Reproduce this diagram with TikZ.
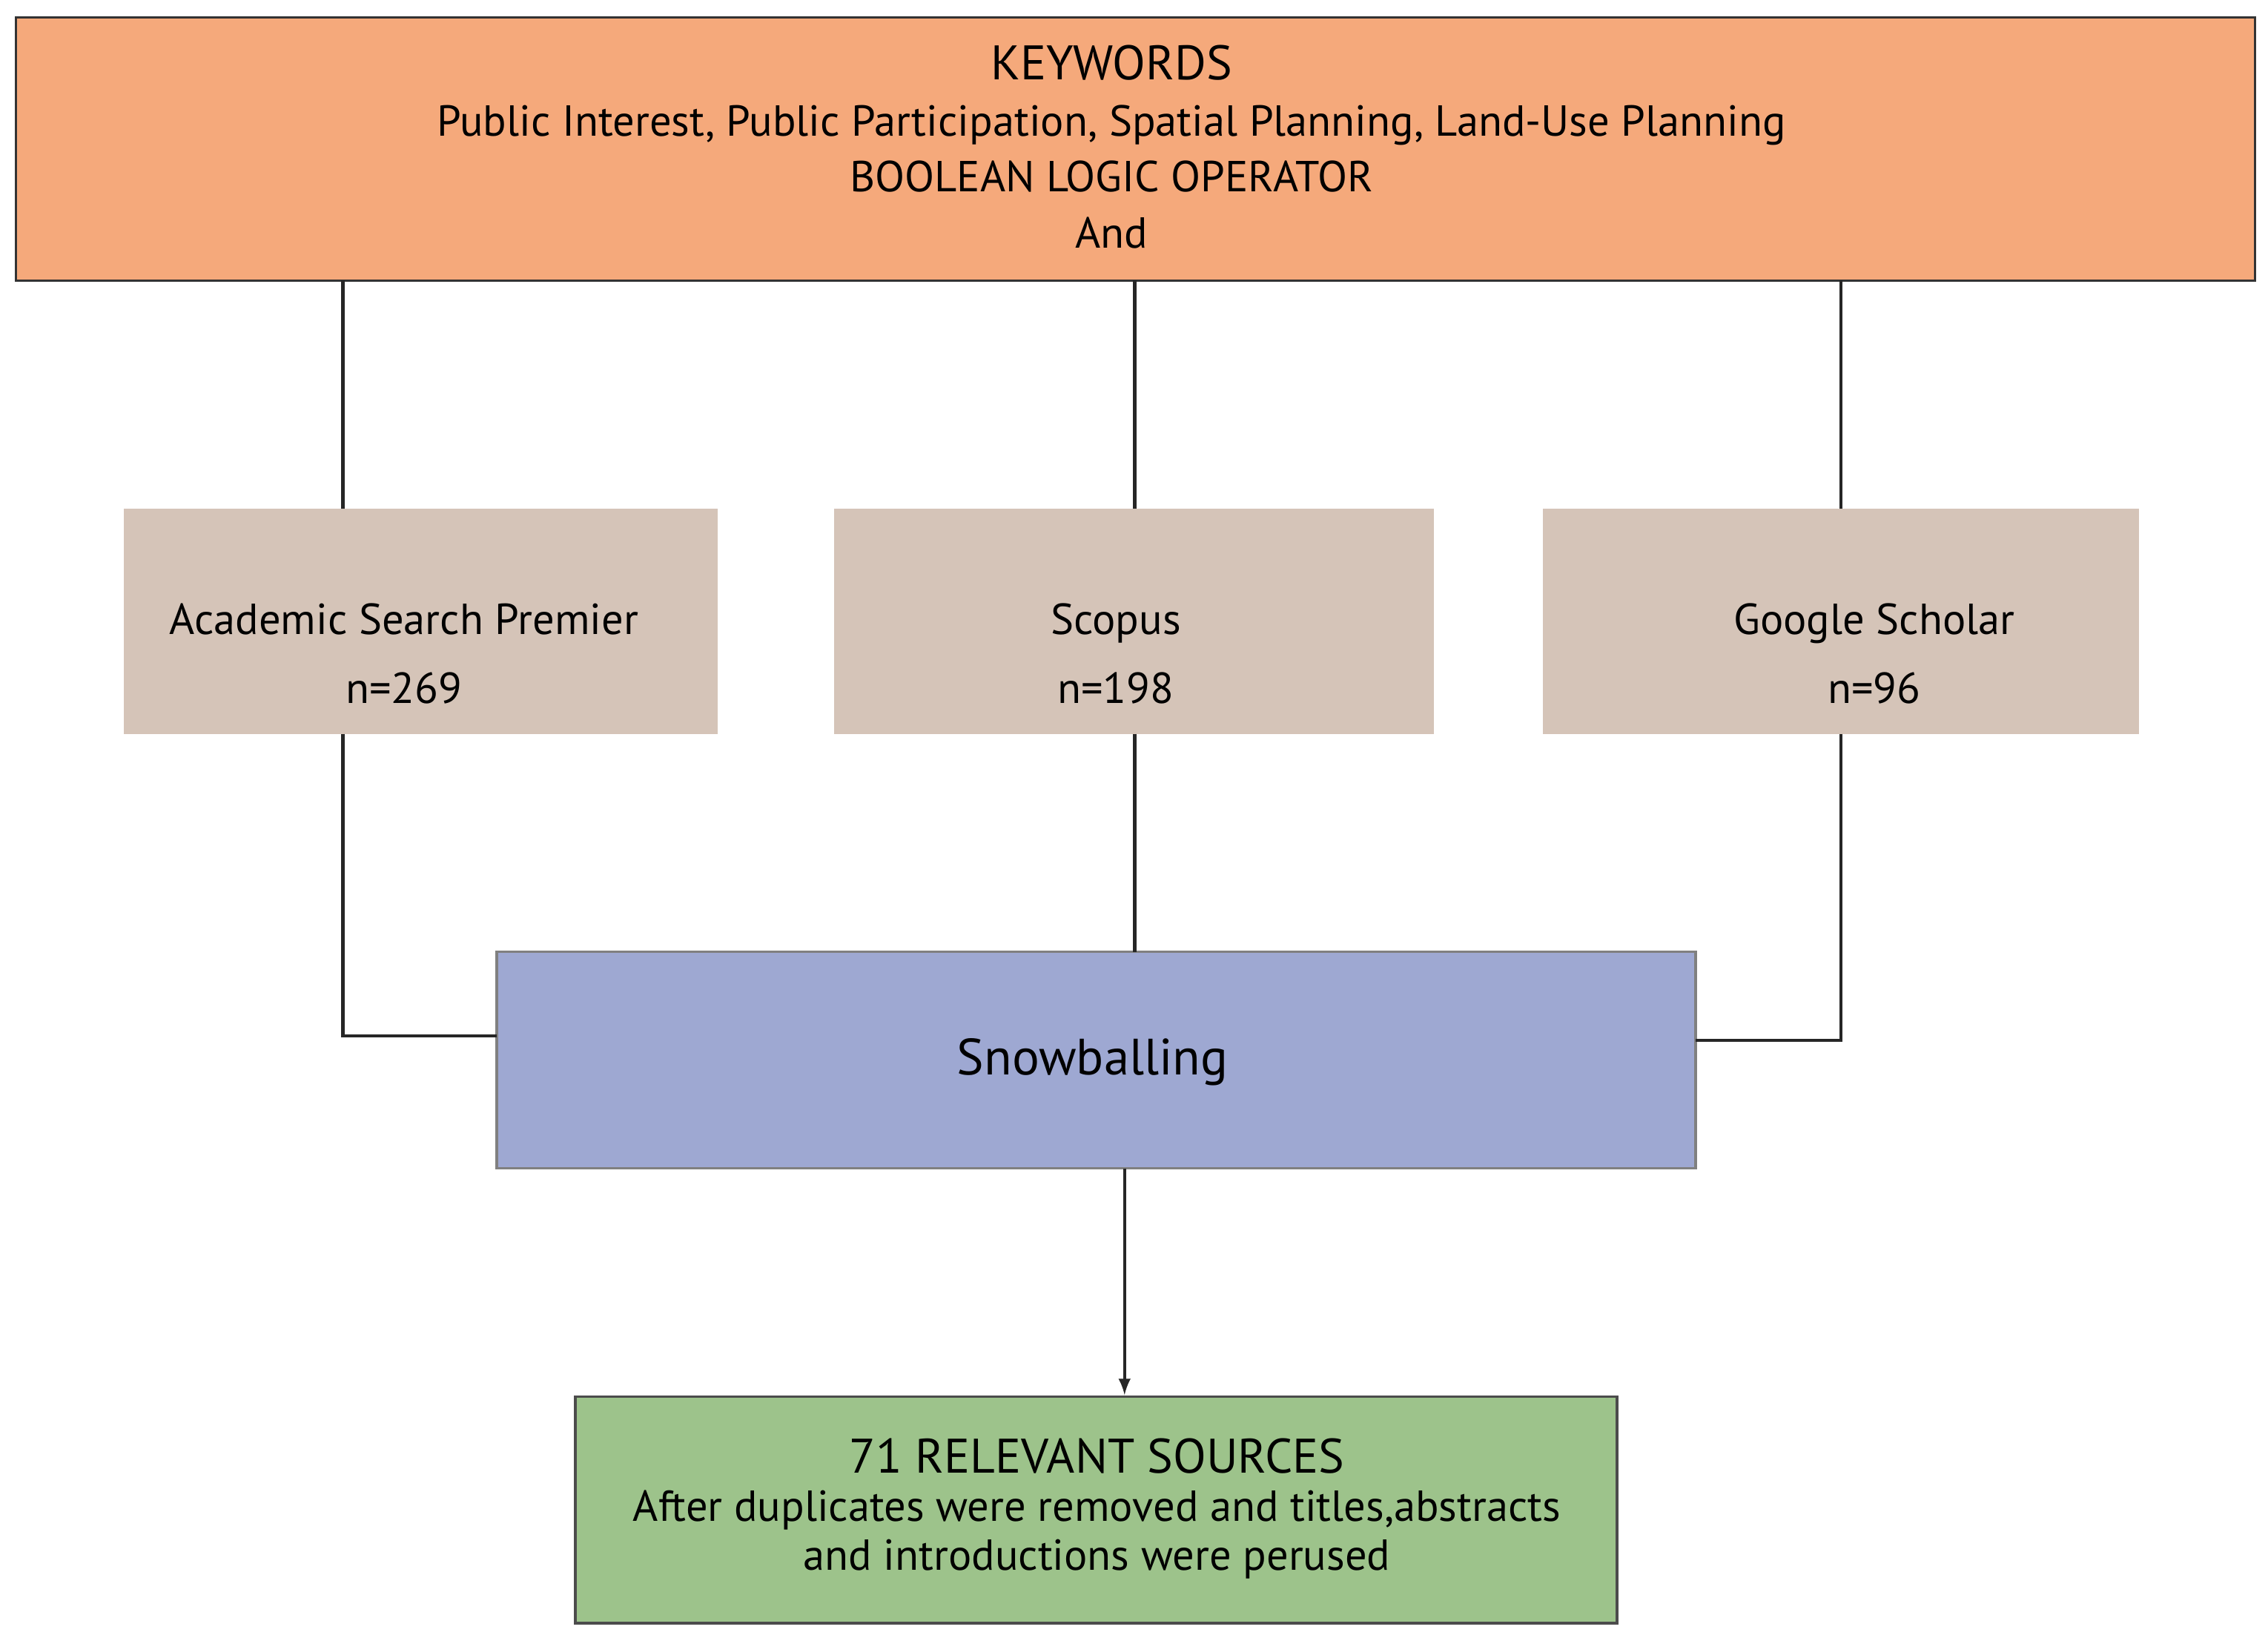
\documentclass[tikz,border=0pt]{standalone}
\usepackage{fontspec}
\setmainfont{PT Sans}
\begin{document}
\begin{tikzpicture}[x=0.02cm,y=-0.02cm,
 box/.style={draw=#1,line width=0.8pt,inner sep=0pt,anchor=north west,align=center},
 ln/.style={line width=1.2pt,draw=black!85},
 txt/.style={font=\fontsize{16}{19}\selectfont}]
\useasboundingbox (0,0) rectangle (1561,1127);
\definecolor{kw}{HTML}{F5A97B}\definecolor{gb}{HTML}{D5C4B8}
\definecolor{sb}{HTML}{9EA8D2}\definecolor{gr}{HTML}{9DC38B}
\fill[kw,draw=black!80,line width=1pt] (11,12) rectangle (1552,193);
\coordinate (kw) at (781,193);
\node[txt,align=center,font=\fontsize{17}{22}\selectfont] (kwt) at (765,101) {\fontsize{19}{22}\selectfont KEYWORDS\\Public Interest, Public Participation, Spatial Planning, Land-Use Planning\\BOOLEAN LOGIC OPERATOR\\And};
\fill[gb] (85,350) rectangle (494,505);
\fill[gb] (574,350) rectangle (987,505);
\fill[gb] (1062,350) rectangle (1472,505);
\node[txt,align=center,font=\fontsize{17}{27}\selectfont] (a) at (278,450) {Academic Search Premier\\n=269};
\node[txt,align=center,font=\fontsize{17}{27}\selectfont] (s) at (768,450) {Scopus\\n=198};
\node[txt,align=center,font=\fontsize{17}{27}\selectfont] (g) at (1290,450) {Google Scholar\\n=96};
\fill[sb,draw=black!50,line width=1pt] (342,655) rectangle (1167,804);
\node[font=\fontsize{20}{24}\selectfont] (snow) at (752,731) {Snowballing};
\fill[gr,draw=black!70,line width=1pt] (396,961) rectangle (1113,1117);
\node[align=center,font=\fontsize{17}{19}\selectfont] (res) at (755,1038) {\fontsize{19}{21}\selectfont 71 RELEVANT SOURCES\\After duplicates were removed and titles,abstracts\\and introductions were perused};
\draw[ln] (236,193) -- (236,350);
\draw[ln] (781,193) -- (781,350);
\draw[ln] (1267,193) -- (1267,350);
\draw[ln] (236,505) -- (236,713) -- (342,713);
\draw[ln] (781,505) -- (781,655);
\draw[ln] (1267,505) -- (1267,716) -- (1167,716);
\draw[ln,-latex] (774,804) -- (774,960);
\end{tikzpicture}
\end{document}
